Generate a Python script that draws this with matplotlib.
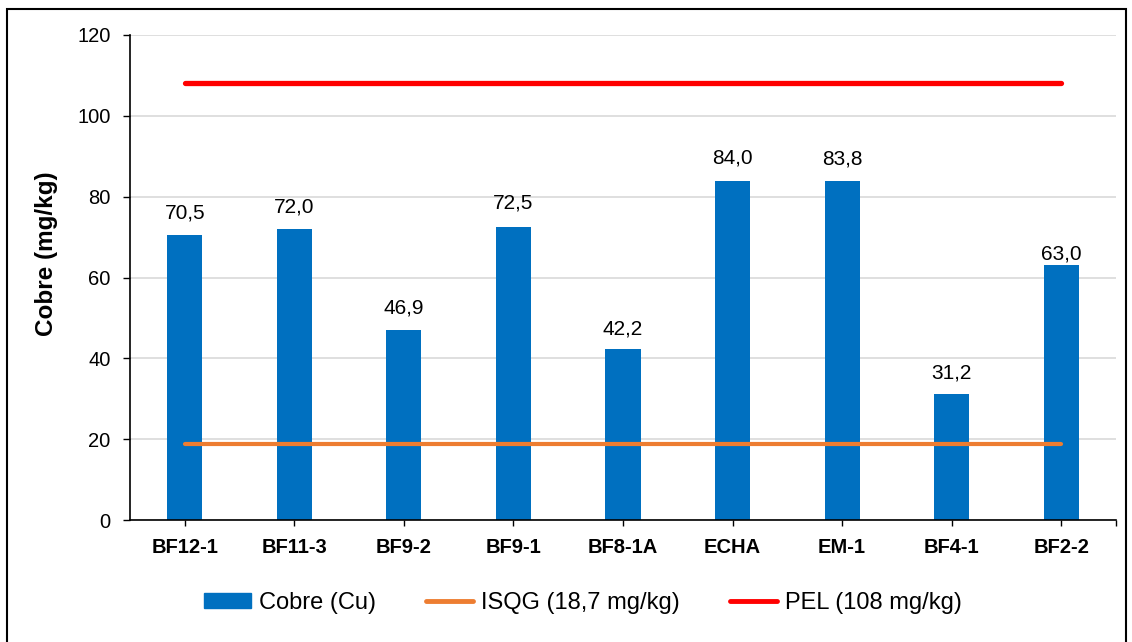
import matplotlib.pyplot as plt
from matplotlib.patches import Rectangle, Patch
from matplotlib.lines import Line2D

plt.rcParams['font.family'] = ['Liberation Sans', 'DejaVu Sans']

# data of the copper concentrations per sample
estacoes = ["BF12-1", "BF11-3", "BF9-2", "BF9-1", "BF8-1A", "ECHA", "EM-1", "BF4-1", "BF2-2"]
cobre = [70.5, 72.0, 46.9, 72.5, 42.2, 84.0, 83.8, 31.2, 63.0]
isqg = 18.7
pel = 108
label_offsets = [16, 16, 16, 17, 15, 16, 16, 15, 8]  # points above each bar

fig = plt.figure(figsize=(11.32, 6.42), dpi=100)
ax = fig.add_axes([130/1132, 1-520/642, 986/1132, 485/642])

x = list(range(len(estacoes)))
ax.bar(x, cobre, width=0.32, color='#0070C0', zorder=2)
ax.plot([x[0], x[-1]], [isqg, isqg], color='#ED7D31', lw=3, solid_capstyle='round', zorder=3)
ax.plot([x[0], x[-1]], [pel, pel], color='#FF0000', lw=3.8, solid_capstyle='round', zorder=3)

# value labels with decimal comma
for xi, v, off in zip(x, cobre, label_offsets):
    ax.annotate(f"{v:.1f}".replace(".", ","), (xi, v), xytext=(0, off), textcoords='offset points',
                ha='center', va='center', fontsize=15)

ax.set_xlim(-0.5, 8.5)
ax.set_ylim(0, 120)
ax.set_yticks(range(0, 121, 20))
ax.set_xticks(x + [8.5])
ax.set_xticklabels(estacoes + [""], fontweight='bold')
ax.tick_params(axis='y', length=5, width=1, pad=9, labelsize=14.5)
ax.tick_params(axis='x', length=4.3, width=1, pad=9, labelsize=14.5)
ax.grid(axis='y', color='#D9D9D9', lw=1.2, zorder=0)
ax.set_axisbelow(True)
for s in ['top', 'right']:
    ax.spines[s].set_visible(False)
ax.spines['left'].set_linewidth(1.2)
ax.spines['bottom'].set_linewidth(1.2)

ax.set_ylabel("Cobre (mg/kg)", fontsize=17.5, fontweight='bold')
ax.yaxis.set_label_coords(-0.073, 0.55)

# legend under the plot
handles = [Patch(color='#0070C0'),
           Line2D([], [], color='#ED7D31', lw=3.5, solid_capstyle='round'),
           Line2D([], [], color='#FF0000', lw=3.5, solid_capstyle='round')]
fig.legend(handles, ["Cobre (Cu)", "ISQG (18,7 mg/kg)", "PEL (108 mg/kg)"], loc='center',
           bbox_to_anchor=(583/1132, 1-603/642), ncol=3, frameon=False, fontsize=17,
           handlelength=2.0, handleheight=0.6, handletextpad=0.35, columnspacing=2.1)

# outer frame of the chart area
fig.patches.append(Rectangle((7/1132, -0.01), 1119/1132, 1-9/642+0.01, transform=fig.transFigure,
                             fill=False, edgecolor='black', lw=1.5))

plt.savefig("out.png", dpi=100)
